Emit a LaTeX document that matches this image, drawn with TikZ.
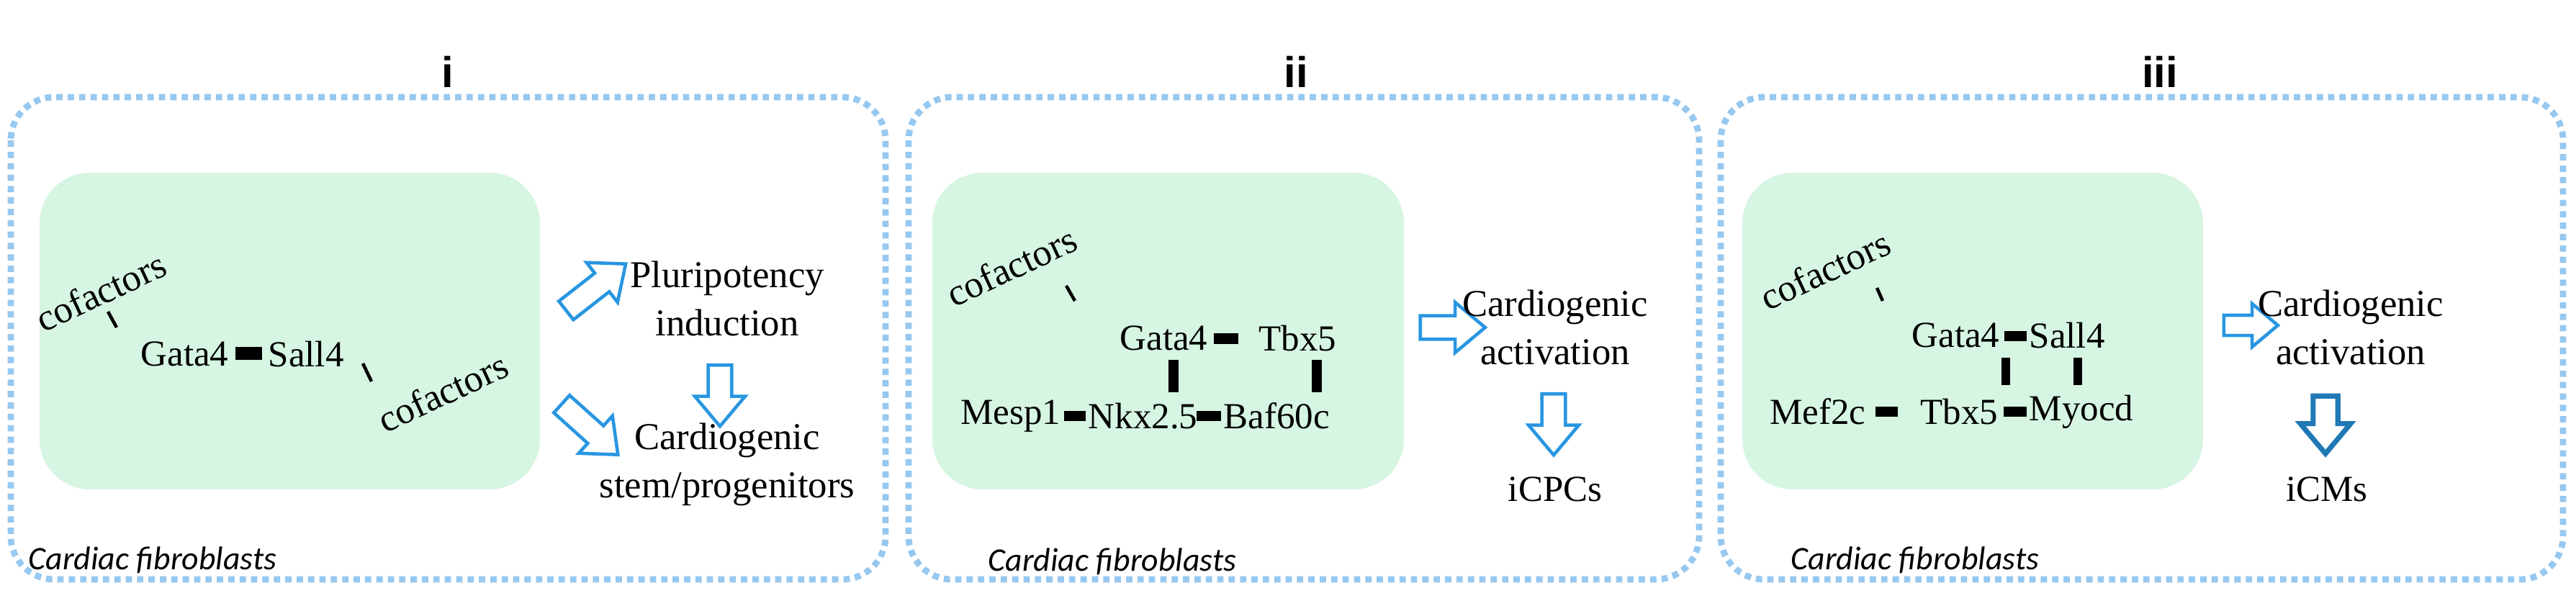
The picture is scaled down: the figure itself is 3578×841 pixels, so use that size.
\documentclass[tikz,border=0pt]{standalone}
\usepackage{fontspec}
\setmainfont{Liberation Serif}
\newfontfamily\capfont{Carlito}
\newfontfamily\titfont{Liberation Sans}
\usetikzlibrary{shapes.arrows}
\definecolor{dotblue}{RGB}{150,200,240}
\definecolor{gfill}{RGB}{214,245,226}
\definecolor{arrblue}{RGB}{40,150,225}
\begin{document}
\begin{tikzpicture}[x=0.01cm,y=-0.01cm,
  lbl/.style={inner sep=0pt,font=\fontsize{14.5}{17}\selectfont},
  txt/.style={inner sep=0pt,align=center,font=\fontsize{15}{19}\selectfont},
  cof/.style={inner sep=0pt,rotate=25,font=\fontsize{15}{17}\selectfont},
  capt/.style={inner sep=0pt,font=\capfont\itshape\fontsize{13}{15}\selectfont},
  ttl/.style={inner sep=0pt,font=\titfont\bfseries\fontsize{17}{19}\selectfont},
  panel/.style={draw=dotblue,dotted,line width=2.5pt,rounded corners=0.6cm},
  green/.style={fill=gfill,draw=none,rounded corners=0.7cm},
  bar/.style={fill=black,draw=none},
  tick/.style={line width=1.3pt},
  barrow/.style={single arrow,draw=arrblue,line width=1.3pt,fill=white,minimum height=1.05cm,minimum width=0.7cm,single arrow head extend=0.14cm,inner sep=0.1cm,single arrow tip angle=80},
]
\useasboundingbox (0,0) rectangle (3578,841);
% panels
\draw[panel] (15,135) rectangle (1230,805);
\draw[panel] (1262,135) rectangle (2360,805);
\draw[panel] (2390,135) rectangle (3560,805);
\node[ttl] (t1) at (622,100) {i};
\node[ttl] (t2) at (1800,100) {ii};
\node[ttl] (t3) at (3000,100) {iii};
\fill[green] (55,240) rectangle (750,680);
\fill[green] (1295,240) rectangle (1950,680);
\fill[green] (2420,240) rectangle (3060,680);
% panel i
\node[cof] (c1) at (140,405) {cofactors};
\draw[tick] (150,433) -- (162,455);
\node[lbl,anchor=east] (g1) at (318,492) {Gata4};
\fill[bar] (327,482) rectangle (364,500);
\node[lbl,anchor=west] (s1) at (372,492) {Sall4};
\draw[tick] (504,505) -- (516,530);
\node[cof] (c2) at (615,545) {cofactors};
\node[txt] (p1) at (1010,415) {Pluripotency\\induction};
\node[txt] (p2) at (1010,645) {Cardiogenic\\stem/progenitors};
\node[barrow,rotate=38] (a1) at (820,405) {};
\node[barrow,rotate=-90,minimum height=0.85cm] (a2) at (1000,540) {};
\node[barrow,rotate=-42] (a3) at (812,590) {};
\node[capt] (f1) at (212,778) {Cardiac fibroblasts};
% panel ii
\node[cof] (c3) at (1405,370) {cofactors};
\draw[tick] (1481,397) -- (1493,418);
\node[lbl,anchor=east] (g2) at (1678,470) {Gata4};
\fill[bar] (1686,463) rectangle (1720,478);
\node[lbl,anchor=west] (t5) at (1748,470) {Tbx5};
\fill[bar] (1623,500) rectangle (1637,545);
\fill[bar] (1822,500) rectangle (1836,545);
\node[lbl,anchor=east] (m2) at (1474,578) {Mesp1};
\fill[bar] (1478,571) rectangle (1508,585);
\node[lbl,anchor=west] (n2) at (1511,578) {Nkx2.5};
\fill[bar] (1662,571) rectangle (1696,585);
\node[lbl,anchor=west] (b2) at (1699,578) {Baf60c};
\node[barrow,minimum height=0.9cm] (a4) at (2008,455) {};
\node[txt] (ca2) at (2160,455) {Cardiogenic\\activation};
\node[barrow,rotate=-90,minimum height=0.85cm] (a5) at (2158,580) {};
\node[lbl] (i2) at (2160,680) {iCPCs};
\node[capt] (f2) at (1545,780) {Cardiac fibroblasts};
% panel iii
\node[cof] (c4) at (2535,375) {cofactors};
\draw[tick] (2607,400) -- (2615,418);
\node[lbl,anchor=east] (g3) at (2778,466) {Gata4};
\fill[bar] (2784,460) rectangle (2815,474);
\node[lbl,anchor=west] (s3) at (2818,466) {Sall4};
\fill[bar] (2780,497) rectangle (2792,535);
\fill[bar] (2880,497) rectangle (2892,535);
\node[lbl,anchor=east] (m3) at (2592,572) {Mef2c};
\fill[bar] (2605,565) rectangle (2636,579);
\node[lbl,anchor=east] (t6) at (2776,572) {Tbx5};
\fill[bar] (2783,565) rectangle (2815,579);
\node[lbl,anchor=west] (my3) at (2818,572) {Myocd};
\node[barrow,minimum height=0.75cm,minimum width=0.6cm] (a6) at (3118,452) {};
\node[txt] (ca3) at (3265,455) {Cardiogenic\\activation};
\node[barrow,rotate=-90,minimum height=0.8cm,line width=2pt,draw=arrblue!80!black] (a7) at (3230,580) {};
\node[lbl] (i3) at (3232,680) {iCMs};
\node[capt] (f3) at (2660,778) {Cardiac fibroblasts};
\end{tikzpicture}
\end{document}
